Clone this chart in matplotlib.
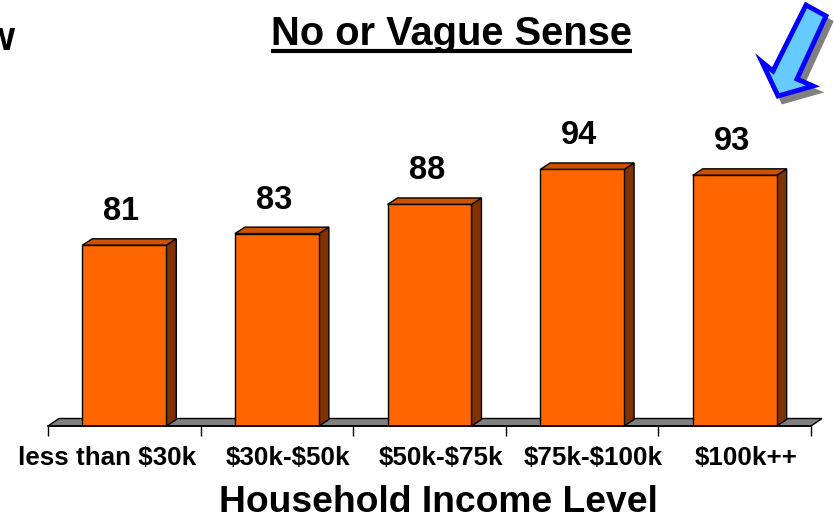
import matplotlib
matplotlib.use("Agg")
import matplotlib.pyplot as plt
from matplotlib.patches import Polygon
import numpy as np

categories = ["less than $30k", "$30k-$50k", "$50k-$75k", "$75k-$100k", "$100k++"]
values = [81, 83, 88, 94, 93]
title = "No or Vague Sense"
xlabel = "Household Income Level"
cut_text = "w"

plt.rcParams['font.family'] = ['Liberation Sans', 'DejaVu Sans']
plt.rcParams['font.weight'] = 'bold'
plt.rcParams['text.parse_math'] = False

W, H = 834, 519
fig = plt.figure(figsize=(W / 100, H / 100), dpi=100)
ax_left, ax_right, ax_base, ax_top = 48, 811, 426, 134.5
ax = fig.add_axes([ax_left / W, (H - ax_base) / H, (ax_right - ax_left) / W, (ax_base - ax_top) / H])
ymin, ymax = 50, 100
n = len(categories)
ax.set_xlim(-0.5, n - 0.5)
ax.set_ylim(ymin, ymax)

px_x = n / (ax_right - ax_left)
px_y = (ymax - ymin) / (ax_base - ax_top)
bdx, bdy = 10 * px_x, 6.5 * px_y
fdx, fdy = 11 * px_x, 7.5 * px_y
bw = 0.55

x = np.arange(n)
floor = Polygon([(-0.5, ymin), (n - 0.5, ymin), (n - 0.5 + fdx, ymin + fdy), (-0.5 + fdx, ymin + fdy)],
                closed=True, facecolor='#808080', edgecolor='black', lw=1, clip_on=False, zorder=1)
ax.add_patch(floor)

ax.bar(x, [v - ymin for v in values], bottom=ymin, width=bw, color='#FF6600',
       edgecolor='black', lw=1, zorder=3)
for xi, v in zip(x, values):
    r = xi + bw / 2
    l = xi - bw / 2
    side = Polygon([(r, ymin), (r + bdx, ymin + bdy), (r + bdx, v + bdy), (r, v)], closed=True,
                   facecolor='#803300', edgecolor='black', lw=1, zorder=2, clip_on=False)
    top = Polygon([(l, v), (r, v), (r + bdx, v + bdy), (l + bdx, v + bdy)], closed=True,
                  facecolor='#CC5200', edgecolor='black', lw=1, zorder=2, clip_on=False)
    ax.add_patch(side)
    ax.add_patch(top)
    ax.annotate(str(v), (xi, v), xytext=(-2, 13), textcoords='offset points', ha='center',
                va='bottom', fontsize=23.5, fontweight='bold', annotation_clip=False)

for s in ['top', 'right', 'left']:
    ax.spines[s].set_visible(False)
ax.spines['bottom'].set_color('black')
ax.spines['bottom'].set_linewidth(1.2)
ax.spines['bottom'].set_zorder(4)
ax.set_yticks([])
ax.set_xticks(np.arange(-0.5, n, 1.0))
ax.set_xticklabels([])
ax.tick_params(axis='x', which='major', length=7, width=1, direction='out', color='black')
ax.patch.set_alpha(0)

fig.text(438.5 / W, (H - 512) / H, xlabel, ha='center', va='baseline', fontsize=26.8, fontweight='bold')
t = fig.text(452 / W, (H - 45) / H, title, ha='center', va='baseline', fontsize=28.7, fontweight='bold')
fig.text(14 / W, (H - 50) / H, cut_text, ha='right', va='baseline', fontsize=28.7, fontweight='bold')

# category labels: centred a little right of each category, pushed left if they would collide
fig.canvas.draw()
renderer = fig.canvas.get_renderer()
label_texts = []
for xi, cat in zip(x, categories):
    xpix = ax.transData.transform((xi, ymin))[0] + 11
    lt = fig.text(xpix / W, (H - 465) / H, cat, ha='center', va='baseline', fontsize=18.7, fontweight='bold')
    label_texts.append(lt)
fig.canvas.draw()
min_gap, push_gap = 10, 29
for i in range(n - 2, -1, -1):
    b_this = label_texts[i].get_window_extent(renderer)
    b_next = label_texts[i + 1].get_window_extent(renderer)
    if b_this.x1 > b_next.x0 - min_gap:
        shift = b_this.x1 - (b_next.x0 - push_gap)
        px0, py0 = label_texts[i].get_position()
        label_texts[i].set_position((px0 - shift / W, py0))

ov = fig.add_axes([0, 0, 1, 1])
ov.set_xlim(0, W)
ov.set_ylim(H, 0)
ov.axis('off')
ov.patch.set_alpha(0)

bb = t.get_window_extent(renderer)
ov.plot([bb.x0, bb.x1], [51, 51], color='black', lw=3, solid_capstyle='butt')

arrow = [(806, 5), (826, 16), (797, 79), (813, 86), (778, 96), (762, 62), (773, 71)]
shadow = [(px + 5, py + 6) for px, py in arrow]
ov.add_patch(Polygon(shadow, closed=True, facecolor='#808080', edgecolor='#808080', lw=3, joinstyle='miter'))
ov.add_patch(Polygon(arrow, closed=True, facecolor='#66CCFF', edgecolor='#0000FF', lw=3.5, joinstyle='miter'))

fig.savefig('out.png', dpi=100)
